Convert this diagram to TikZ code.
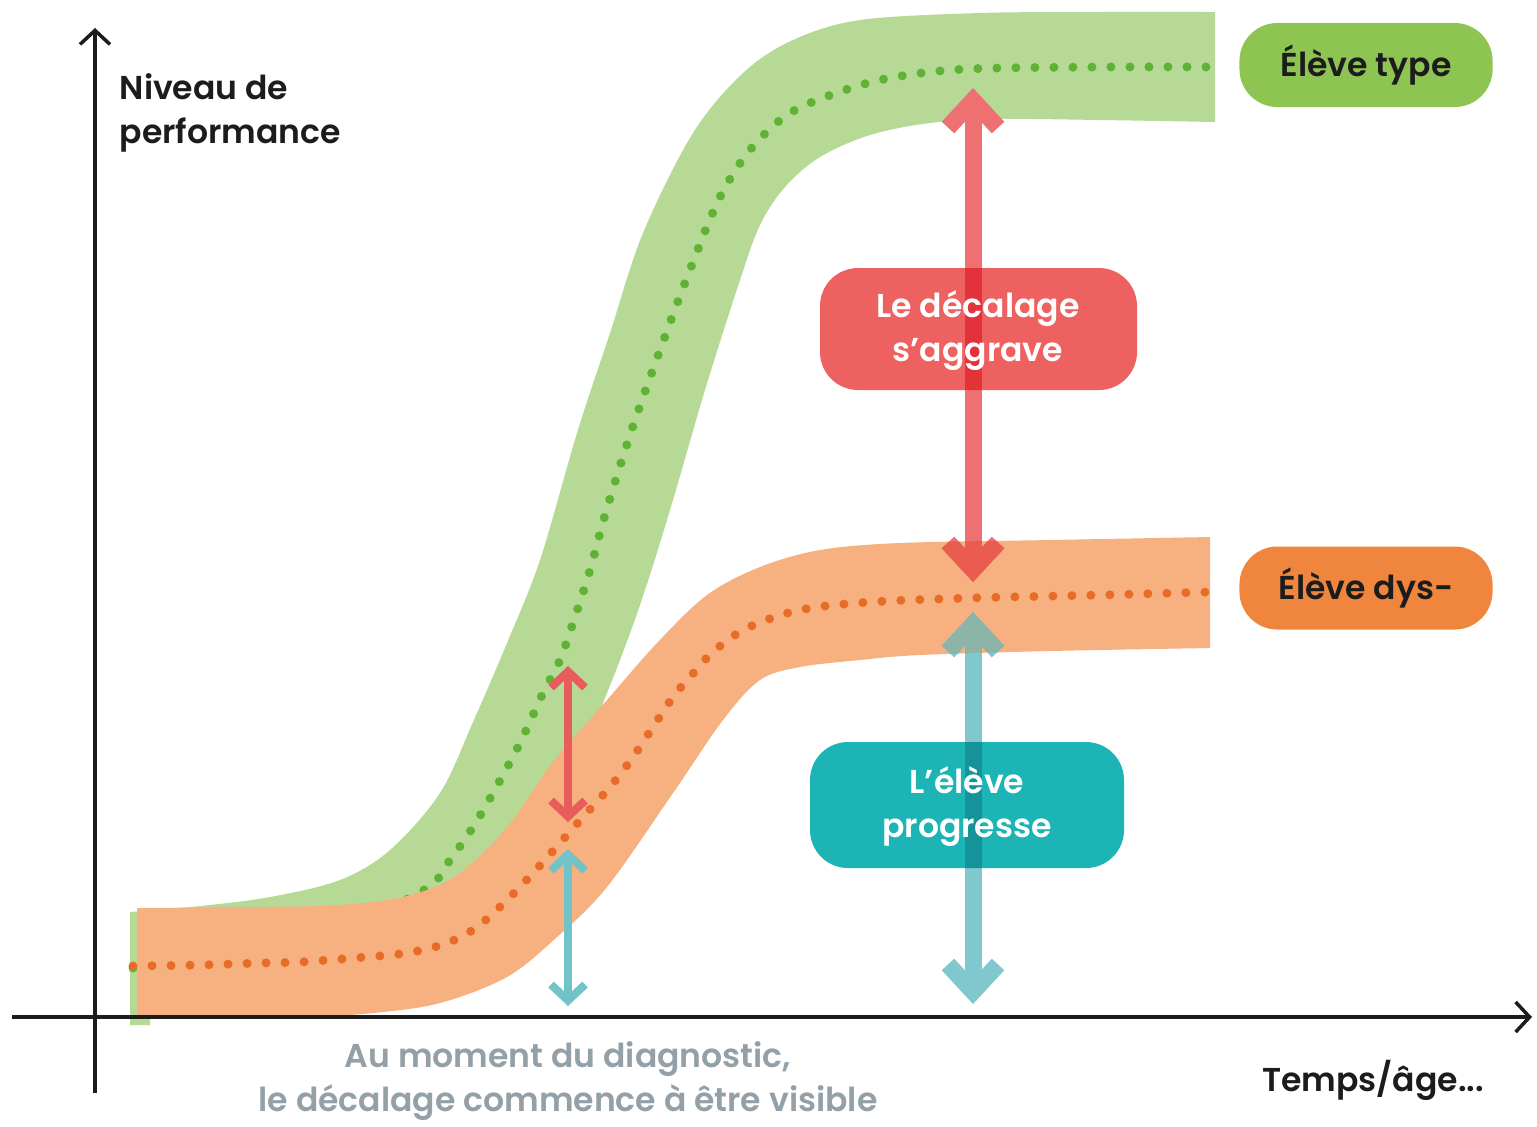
\documentclass[tikz,border=0pt]{standalone}
\usepackage{fontspec}
\setmainfont{Poppins}[BoldFont={Poppins SemiBold}]
\usetikzlibrary{arrows.meta}
\definecolor{bandG}{RGB}{183,217,150}
\definecolor{dotG}{RGB}{96,178,52}
\definecolor{bandO}{RGB}{247,176,128}
\definecolor{dotO}{RGB}{232,108,40}
\definecolor{boxG}{RGB}{141,196,82}
\definecolor{boxO}{RGB}{240,134,62}
\definecolor{boxR}{RGB}{238,97,97}
\definecolor{boxT}{RGB}{29,180,182}
\definecolor{arrR}{RGB}{238,112,112}
\definecolor{arrRd}{RGB}{226,50,58}
\definecolor{arrRo}{RGB}{234,92,80}
\definecolor{arrT}{RGB}{128,200,205}
\definecolor{arrTd}{RGB}{20,148,154}
\definecolor{arrTo}{RGB}{140,180,168}
\definecolor{arrRs}{RGB}{232,92,92}
\definecolor{arrTs}{RGB}{112,196,200}
\definecolor{greyT}{RGB}{148,160,168}
\definecolor{ink}{RGB}{28,28,28}
\tikzset{
  txt/.style={font=\fontsize{9.4pt}{12.5pt}\selectfont\bfseries, inner sep=0pt},
  pill/.style={txt, rounded corners=0.38cm, align=center},
  dotline/.style={line width=0.09cm, line cap=round, dash pattern=on 0pt off 0.19cm},
  axis/.style={draw=ink, line width=0.035cm, -{Straight Barb[length=0.14cm,width=0.3cm]}},
  bigarrow/.style={line width=0.17cm,
     {Straight Barb[length=0.27cm,width=0.5cm]}-{Straight Barb[length=0.27cm,width=0.5cm]}},
  smallarrow/.style={line width=0.08cm,
     {Straight Barb[length=0.16cm,width=0.34cm]}-{Straight Barb[length=0.16cm,width=0.34cm]}}
}
\def\OBand{(137,1018) -- (137,908)
  -- plot[smooth, tension=0.55] coordinates {(137,908) (250,907) (340,905) (407,896) (457,875) (507,827) (553,762) (607,700) (657,643) (707,595) (760,567) (820,550) (900,543) (1050,540) (1210,537)}
  -- (1210,648)
  -- plot[smooth, tension=0.55] coordinates {(1210,648) (1050,651) (920,655) (860,660) (800,667) (760,680) (723,720) (673,793) (607,887) (557,937) (507,977) (440,1003) (373,1013) (300,1017) (137,1018)}
  -- cycle}
\def\RBox{[rounded corners=0.38cm] (820,268) rectangle (1137,390)}
\def\TBox{[rounded corners=0.38cm] (810,742) rectangle (1124,868)}
\begin{document}
\begin{tikzpicture}[x=0.01cm,y=-0.01cm]
\useasboundingbox (0,0) rectangle (1537,1126);
\fill[white] (0,0) rectangle (1537,1126);

% green band
\fill[bandG] (130,1025) -- (130,912)
  -- plot[smooth, tension=0.55] coordinates {(130,912) (200,906) (270,897) (340,880) (390,850) (440,793) (473,722) (507,643) (540,560) (577,433) (610,333) (643,233) (693,133) (743,73) (793,40) (860,20) (980,13) (1100,12) (1215,12)}
  -- (1215,122)
  -- plot[smooth, tension=0.55] coordinates {(1215,122) (1100,120) (1000,119) (930,123) (870,135) (820,157) (785,187) (760,225) (740,280) (705,390) (670,510) (640,605) (607,693) (565,790) (500,890) (420,950) (300,985) (150,995)}
  -- (150,1025) -- cycle;
% green dotted
\draw[dotline, dotG] plot[smooth, tension=0.55] coordinates {(133,968) (250,955) (350,925) (427,888) (450,860) (473,827) (493,793) (520,743) (543,693) (560,660) (573,623) (590,570) (605,515) (630,435) (660,350) (693,262) (720,197) (750,150) (790,113) (845,90) (895,77) (967,69) (1100,67) (1215,67)};

% orange band
\fill[bandO] \OBand;
% orange dotted
\draw[dotline, dotO] plot[smooth, tension=0.55] coordinates {(133,966) (200,965) (260,963) (300,962) (353,958) (407,953) (447,943) (477,927) (507,900) (533,873) (560,843) (583,817) (610,787) (633,757) (653,727) (673,697) (690,677) (713,652) (747,628) (800,610) (870,602) (970,598) (1100,595) (1210,592)};

% axes
\coordinate (O1) at (95,1093);
\coordinate (Ytip) at (95,28);
\coordinate (X0) at (12,1017);
\coordinate (Xtip) at (1532,1017);
\draw[axis] (O1) -- (Ytip);
\draw[axis] (X0) -- (Xtip);

% box shapes
\fill[boxR] \RBox;
\fill[boxT] \TBox;

% big arrows
\coordinate (rT) at (973,88);
\coordinate (rB) at (973,582);
\coordinate (tT) at (973,612);
\coordinate (tB) at (973,1004);
\draw[bigarrow, arrR] (rT) -- (rB);
\draw[bigarrow, arrT] (tT) -- (tB);
\begin{scope}
  \clip \RBox;
  \draw[bigarrow, arrRd] (rT) -- (rB);
\end{scope}
\begin{scope}
  \clip \TBox;
  \draw[bigarrow, arrTd] (tT) -- (tB);
\end{scope}
\begin{scope}
  \clip \OBand;
  \draw[bigarrow, arrRo] (rT) -- (rB);
  \draw[bigarrow, arrTo] (tT) -- (tB);
\end{scope}

% box texts
\node[txt, text=white, align=center] (agg) at (978,331) {Le décalage\\s’aggrave};
\node[txt, text=white, align=center] (prog) at (967,807) {L’élève\\progresse};

% small arrows
\coordinate (srT) at (568,666);
\coordinate (srB) at (568,822);
\coordinate (stT) at (568,849);
\coordinate (stB) at (568,1006);
\draw[smallarrow, arrRs] (srT) -- (srB);
\draw[smallarrow, arrTs] (stT) -- (stB);

% labels
\node[pill, fill=boxG, text=ink, minimum width=2.53cm, minimum height=0.84cm] (typ) at (1366,65) {Élève type};
\node[pill, fill=boxO, text=ink, minimum width=2.53cm, minimum height=0.83cm] (dys) at (1366,588) {Élève dys-};

\node[txt, text=ink, align=left, anchor=west] (ylab) at (119,113) {Niveau de\\performance};
\node[txt, text=ink] (xlab) at (1373,1080) {Temps/âge...};
\node[txt, text=greyT, align=center] (diag) at (568,1081) {Au moment du diagnostic,\\le décalage commence à être visible};
\end{tikzpicture}
\end{document}
